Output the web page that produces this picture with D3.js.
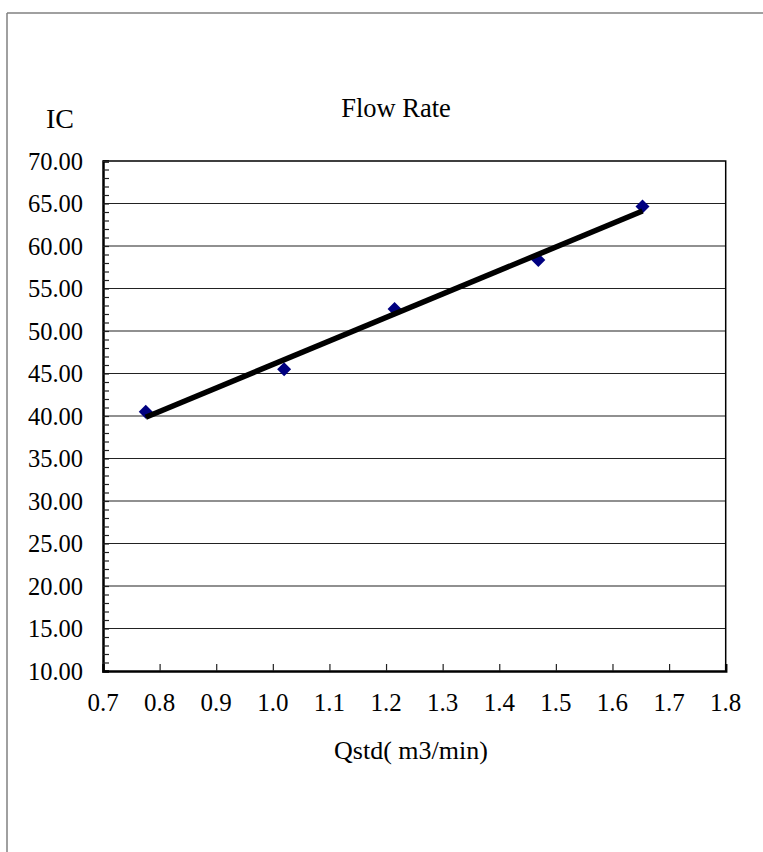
<!DOCTYPE html>
<html>
<head>
<meta charset="utf-8">
<script src="https://d3js.org/d3.v7.min.js"></script>
<style>
  body { margin: 0; background: #fff; }
  svg text { font-family: "Liberation Serif", "DejaVu Serif", serif; fill: #000; }
</style>
</head>
<body>
<svg id="chart" width="763" height="852"></svg>
<script>
// data
const qstd = [0.7755, 1.020, 1.215, 1.469, 1.653];
const icValues = [40.5, 45.5, 52.6, 58.35, 64.65];
const xTicks = [0.7, 0.8, 0.9, 1.0, 1.1, 1.2, 1.3, 1.4, 1.5, 1.6, 1.7, 1.8];
const yTicks = [10, 15, 20, 25, 30, 35, 40, 45, 50, 55, 60, 65, 70];

const svg = d3.select("#chart");

// outer frame (only top and left edges show)
svg.append("line").attr("x1", 7).attr("y1", 13).attr("x2", 763).attr("y2", 13)
    .attr("stroke", "#808080").attr("stroke-width", 1.5);
svg.append("line").attr("x1", 7).attr("y1", 13).attr("x2", 7).attr("y2", 852)
    .attr("stroke", "#808080").attr("stroke-width", 1.5);

const x = d3.scaleLinear().domain([0.7, 1.8]).range([103, 725.7]);
const y = d3.scaleLinear().domain([10, 70]).range([671, 161]);

// horizontal gridlines
svg.append("g").selectAll("line")
    .data(yTicks.filter(d => d > 10 && d < 70))
    .enter().append("line")
    .attr("x1", x(0.7)).attr("x2", x(1.8))
    .attr("y1", d => y(d)).attr("y2", d => y(d))
    .attr("stroke", "#222").attr("stroke-width", 1.2);

// plot frame top/right
svg.append("path")
    .attr("d", `M${x(0.7)},${y(70)}H${x(1.8)}V${y(10)}`)
    .attr("fill", "none").attr("stroke", "#000").attr("stroke-width", 1.5);

// y axis: minor ticks every 1 pointing inside
const yAxis = d3.axisRight(y).tickValues(d3.range(10, 71, 1)).tickSize(6).tickFormat("");
const gy = svg.append("g").attr("transform", `translate(${x(0.7)},0)`).call(yAxis);
gy.select(".domain").attr("stroke", "#000").attr("stroke-width", 2.5);
gy.selectAll(".tick line").attr("stroke", "#222").attr("stroke-width", 1.2);

// y labels
svg.append("g").selectAll("text")
    .data(yTicks)
    .enter().append("text")
    .attr("x", 83).attr("y", d => y(d)).attr("dy", "0.35em")
    .attr("text-anchor", "end").attr("font-size", 24.5)
    .text(d => d3.format(".2f")(d));

// x axis: ticks pointing up
const xAxis = d3.axisTop(x).tickValues(xTicks.slice(1, -1)).tickSize(7).tickFormat("");
const gx = svg.append("g").attr("transform", `translate(0,${y(10)})`).call(xAxis);
gx.select(".domain").attr("stroke", "#000").attr("stroke-width", 2.5);
gx.selectAll(".tick line").attr("stroke", "#222").attr("stroke-width", 1.2);

svg.append("g").selectAll("text")
    .data(xTicks)
    .enter().append("text")
    .attr("x", d => x(d)).attr("y", 711)
    .attr("text-anchor", "middle").attr("font-size", 25)
    .text(d => d3.format(".1f")(d));

// markers
const pts = qstd.map((q, i) => [q, icValues[i]]);
svg.append("g").selectAll("path")
    .data(pts)
    .enter().append("path")
    .attr("transform", d => `translate(${x(d[0])},${y(d[1])})`)
    .attr("d", "M0,-7L7,0L0,7L-7,0Z")
    .attr("fill", "#000080");

// linear trendline over the data range
const mx = d3.mean(qstd), my = d3.mean(icValues);
const slope = d3.sum(pts, d => (d[0] - mx) * (d[1] - my)) / d3.sum(qstd, q => (q - mx) ** 2);
const icpt = my - slope * mx;
const ends = d3.extent(qstd).map(q => [q, icpt + slope * q]);
svg.append("path")
    .datum(ends)
    .attr("d", d3.line().x(d => x(d[0])).y(d => y(d[1])))
    .attr("stroke", "#000").attr("stroke-width", 5.5).attr("fill", "none");

// titles
svg.append("text").attr("x", 396).attr("y", 117).attr("text-anchor", "middle")
    .attr("font-size", 26.5).text("Flow Rate");
svg.append("text").attr("x", 60).attr("y", 128).attr("text-anchor", "middle")
    .attr("font-size", 28).text("IC");
svg.append("text").attr("x", 411).attr("y", 759).attr("text-anchor", "middle")
    .attr("font-size", 26).text("Qstd( m3/min)");
</script>
</body>
</html>
